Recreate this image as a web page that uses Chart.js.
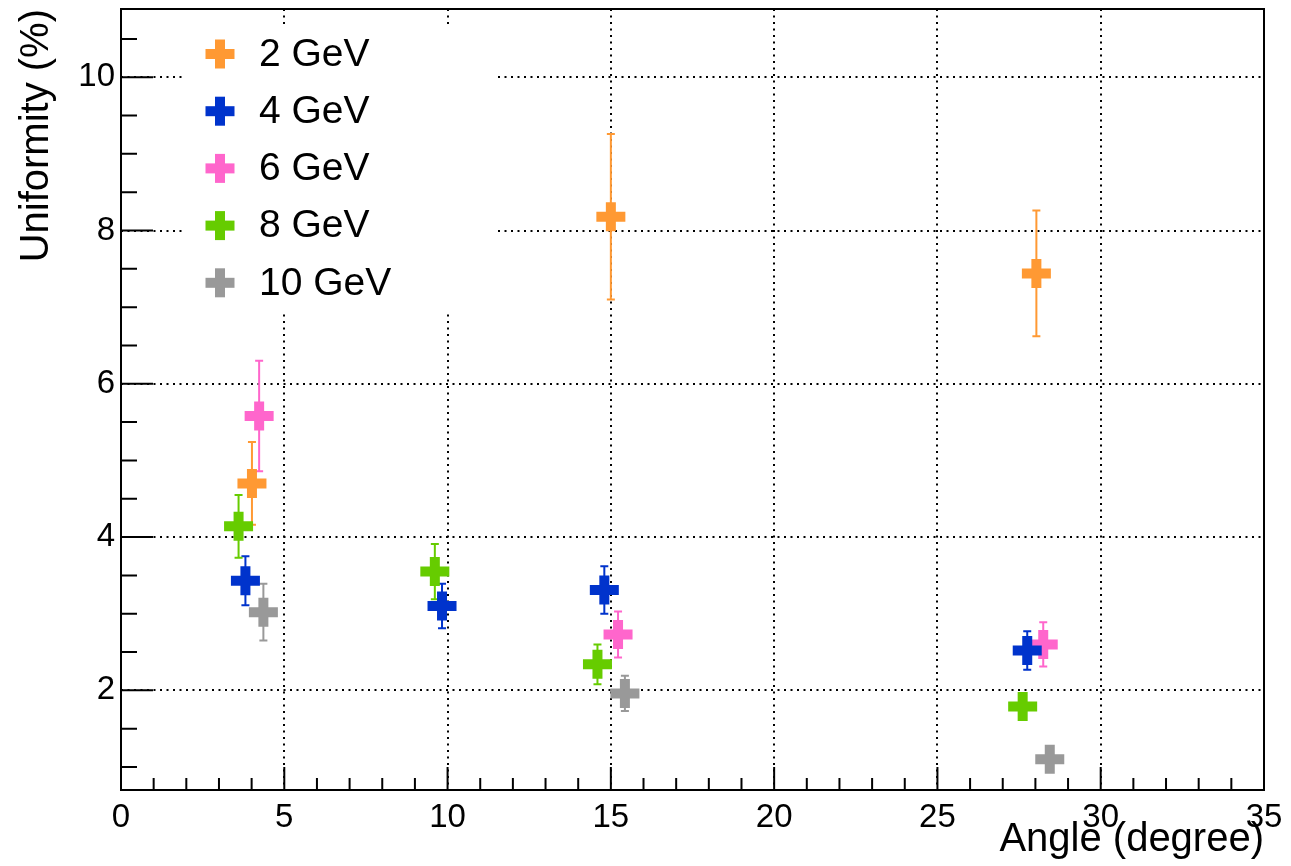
<!DOCTYPE html>
<html>
<head>
<meta charset="utf-8">
<script src="https://cdn.jsdelivr.net/npm/chart.js@4"></script>
<style>
  html, body { margin: 0; padding: 0; background: #fff; }
  canvas { display: block; }
</style>
</head>
<body>
<canvas id="uniformityChart" width="1291" height="866"></canvas>
<script>
// 資料 (讀自圖片)
const seriesLabels = ['2 GeV', '4 GeV', '6 GeV', '8 GeV', '10 GeV'];
const seriesColors = ['#ff9933', '#0033cc', '#ff66cc', '#66cc00', '#999999'];

const angle2 = [4.01, 15.00, 28.03];
const unif2 = [4.70, 8.18, 7.44];
const err2 = [0.54, 1.08, 0.82];

const angle4 = [3.81, 9.83, 14.80, 27.75];
const unif4 = [3.43, 3.10, 3.31, 2.52];
const err4 = [0.32, 0.29, 0.31, 0.25];

const angle6 = [4.23, 15.22, 28.24];
const unif6 = [5.58, 2.73, 2.60];
const err6 = [0.72, 0.30, 0.29];

const angle8 = [3.60, 9.61, 14.59, 27.61];
const unif8 = [4.14, 3.55, 2.34, 1.79];
const err8 = [0.41, 0.36, 0.26, 0.12];

const angle10 = [4.36, 15.43, 28.44];
const unif10 = [3.02, 1.96, 1.10];
const err10 = [0.37, 0.23, 0.08];

const xTicks = [0, 5, 10, 15, 20, 25, 30, 35];
const yTicks = [2, 4, 6, 8, 10];

const allX = [angle2, angle4, angle6, angle8, angle10];
const allY = [unif2, unif4, unif6, unif8, unif10];
const allErr = [err2, err4, err6, err8, err10];

const FONT = '"Liberation Sans", Arial, Helvetica, sans-serif';

const datasets = seriesLabels.map((label, i) => ({
    label: label,
    data: allX[i].map((x, j) => ({ x: x, y: allY[i][j] })),
    errors: allErr[i],
    showLine: false,
    pointStyle: 'cross',
    pointRadius: 14.5,
    pointHoverRadius: 14.5,
    pointBorderWidth: 10,
    pointHoverBorderWidth: 10,
    borderColor: seriesColors[i],
    backgroundColor: seriesColors[i]
}));

// 誤差棒
const errorBars = {
    id: 'errorBars',
    beforeDatasetsDraw(chart) {
        const { ctx, chartArea, scales: { x, y } } = chart;
        ctx.save();
        ctx.beginPath();
        ctx.rect(chartArea.left, chartArea.top, chartArea.right - chartArea.left, chartArea.bottom - chartArea.top);
        ctx.clip();
        chart.data.datasets.forEach(ds => {
            ctx.strokeStyle = ds.borderColor;
            ctx.lineWidth = 2;
            ds.data.forEach((p, j) => {
                const e = ds.errors[j];
                const px = x.getPixelForValue(p.x);
                const top = y.getPixelForValue(p.y + e);
                const bot = y.getPixelForValue(p.y - e);
                ctx.beginPath();
                ctx.moveTo(px, top);
                ctx.lineTo(px, bot);
                ctx.moveTo(px - 4, top);
                ctx.lineTo(px + 4, top);
                ctx.moveTo(px - 4, bot);
                ctx.lineTo(px + 4, bot);
                ctx.stroke();
            });
        });
        ctx.restore();
    }
};

// 外框與向內刻度 (ROOT 風格)
const frameTicks = {
    id: 'frameTicks',
    afterDatasetsDraw(chart) {
        const { ctx, chartArea: a, scales: { x, y } } = chart;
        ctx.save();
        ctx.strokeStyle = '#000';
        ctx.lineWidth = 2;
        ctx.strokeRect(a.left, a.top, a.right - a.left, a.bottom - a.top);
        ctx.beginPath();
        for (let v = 0; v <= 35; v++) {
            const px = x.getPixelForValue(v);
            const len = v % 5 === 0 ? 23 : 12;
            ctx.moveTo(px, a.bottom);
            ctx.lineTo(px, a.bottom - len);
        }
        for (let v = 1; v <= 10.5; v += 0.5) {
            const py = y.getPixelForValue(v);
            const len = yTicks.includes(v) ? 32 : 16;
            ctx.moveTo(a.left, py);
            ctx.lineTo(a.left + len, py);
        }
        ctx.stroke();
        ctx.restore();
    }
};

// 圖例 (白底蓋住格線)
const boxLegend = {
    id: 'boxLegend',
    afterDraw(chart) {
        const { ctx, chartArea: a } = chart;
        ctx.save();
        ctx.fillStyle = '#fff';
        ctx.fillRect(a.left + 61, a.top + 15, 313, 289);
        chart.data.datasets.forEach((ds, i) => {
            const cy = a.top + 45 + i * 57.2;
            const cx = a.left + 99;
            ctx.fillStyle = ds.borderColor;
            ctx.fillRect(cx - 14.5, cy - 5, 29, 10);
            ctx.fillRect(cx - 5, cy - 14.5, 10, 29);
            ctx.fillStyle = '#000';
            ctx.font = '39px ' + FONT;
            ctx.textBaseline = 'middle';
            ctx.textAlign = 'left';
            ctx.fillText(ds.label, a.left + 138, cy + 1);
        });
        ctx.restore();
    }
};

const chart = new Chart(document.getElementById('uniformityChart').getContext('2d'), {
    type: 'scatter',
    data: { datasets: datasets },
    plugins: [errorBars, frameTicks, boxLegend],
    options: {
        responsive: false,
        animation: false,
        events: [],
        layout: { autoPadding: false, padding: { left: 0, top: 9, right: 27, bottom: 0 } },
        plugins: {
            legend: { display: false },
            tooltip: { enabled: false }
        },
        scales: {
            x: {
                type: 'linear',
                min: 0,
                max: 35,
                afterBuildTicks: s => { s.ticks = xTicks.map(v => ({ value: v })); },
                afterFit: s => { s.height = 76; },
                grid: { drawTicks: false, color: '#000', lineWidth: 2 },
                border: { display: false, dash: [2, 4.5] },
                ticks: { padding: 8, color: '#000', font: { family: FONT, size: 33 } },
                title: {
                    display: true,
                    text: 'Angle (degree)',
                    align: 'end',
                    color: '#000',
                    padding: { top: 0, bottom: 2 },
                    font: { family: FONT, size: 40 }
                }
            },
            y: {
                type: 'linear',
                min: 0.7,
                max: 10.89,
                afterBuildTicks: s => { s.ticks = yTicks.map(v => ({ value: v })); },
                afterFit: s => { s.width = 121; },
                grid: { drawTicks: false, color: '#000', lineWidth: 2 },
                border: { display: false, dash: [2, 4.5] },
                ticks: { padding: 6, color: '#000', font: { family: FONT, size: 33, lineHeight: 0.1 } },
                title: {
                    display: true,
                    text: 'Uniformity (%)',
                    align: 'end',
                    color: '#000',
                    padding: { top: 13, bottom: 0 },
                    font: { family: FONT, size: 40 }
                }
            }
        }
    }
});
</script>
</body>
</html>
